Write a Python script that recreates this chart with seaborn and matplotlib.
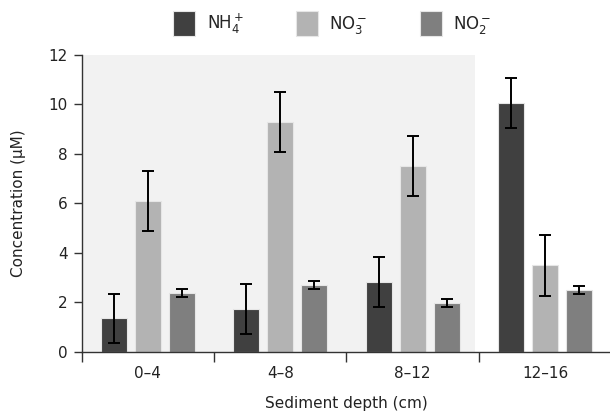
import matplotlib
matplotlib.use('Agg')
import matplotlib.pyplot as plt
import pandas as pd
import seaborn as sns

depths = ['0–4', '4–8', '8–12', '12–16']
ions = [r'NH$_4^+$', r'NO$_3^-$', r'NO$_2^-$']
nh4 = [1.35, 1.74, 2.83, 10.05]
no3 = [6.10, 9.28, 7.50, 3.50]
no2 = [2.38, 2.70, 1.98, 2.50]
nh4_err = [1.0, 1.0, 1.0, 1.0]
no3_err = [1.22, 1.22, 1.22, 1.23]
no2_err = [0.15, 0.15, 0.15, 0.15]
colors = ['#404040', '#b3b3b3', '#7f7f7f']

df = pd.DataFrame({
    'depth': depths * 3,
    'ion': [ions[0]] * 4 + [ions[1]] * 4 + [ions[2]] * 4,
    'conc': nh4 + no3 + no2,
})
errs = [nh4_err, no3_err, no2_err]

sns.set_style('ticks')
plt.rcParams['font.family'] = ['DejaVu Sans']
plt.rcParams['mathtext.default'] = 'regular'

fig = plt.figure(figsize=(6.1, 4.13), dpi=100)
ax = fig.add_axes([0.134, 0.148, 0.868, 0.719])

ax.axvspan(-0.5, 2.47, color='#f2f2f2', zorder=0, lw=0)
sns.barplot(data=df, x='depth', y='conc', hue='ion', palette=colors,
            errorbar=None, width=0.77, gap=0.23, ax=ax,
            edgecolor='#e6e6e6', linewidth=0.8, zorder=2)

# error bars from the seaborn bar positions
for cont, e in zip(ax.containers, errs):
    xs = [b.get_x() + b.get_width() / 2 for b in cont]
    ys = [b.get_height() for b in cont]
    ax.errorbar(xs, ys, yerr=e, fmt='none', ecolor='black',
                elinewidth=1.4, capsize=4.5, capthick=1.4, zorder=3)

ax.set_xlim(-0.5, 3.5)
ax.set_ylim(0, 12)
ax.set_yticks(range(0, 13, 2))
ax.set_xticks([-0.5, 0.5, 1.5, 2.5, 3.5])
ax.set_xticklabels([])
ax.set_xticks(range(4), minor=True)
ax.set_xticklabels(depths, minor=True)
ax.tick_params(axis='x', which='minor', length=0, pad=10)
ax.tick_params(axis='x', which='major', length=7, width=1, color='#333333')
ax.tick_params(axis='y', length=6, width=1, color='#333333', pad=4)
ax.tick_params(which='both', labelsize=11, labelcolor='#222222')
for s in ['left', 'bottom']:
    ax.spines[s].set_color('#333333')
    ax.spines[s].set_linewidth(1)
sns.despine(ax=ax)
ax.set_xlabel('Sediment depth (cm)', fontsize=11, color='#222222', labelpad=11)
ax.set_ylabel('Concentration (μM)', fontsize=11, color='#222222', labelpad=16)

handles, labels = ax.get_legend_handles_labels()
ax.get_legend().remove()
fig.legend(handles, labels, loc='upper center', bbox_to_anchor=(0.545, 1.01),
           ncol=3, frameon=False, fontsize=12, handlelength=1.32,
           handleheight=1.9, columnspacing=3.1, handletextpad=0.7)

fig.savefig('out.png', dpi=100)
